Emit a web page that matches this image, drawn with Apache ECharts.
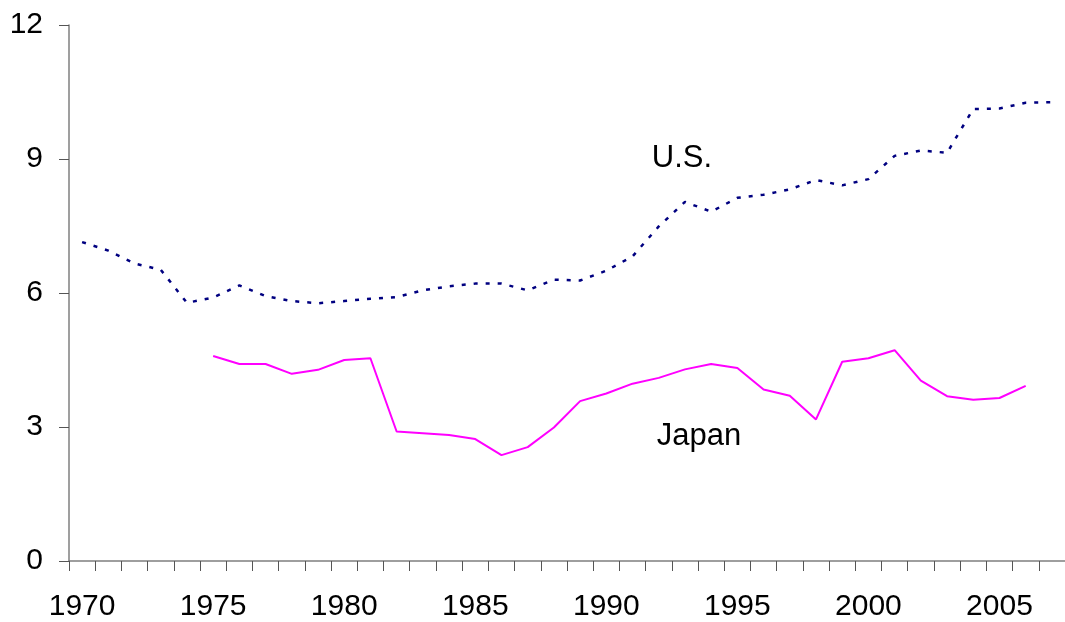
<!DOCTYPE html>
<html lang="en">
<head>
  <meta charset="UTF-8">
  <script src="https://cdn.jsdelivr.net/npm/echarts/dist/echarts.min.js"></script>
  <style>
    html, body { margin: 0; padding: 0; background: #fff; }
    #chart { width: 1065px; height: 622px; }
  </style>
</head>
<body>
  <div id="chart"></div>
  <script>
    const years = [];
    for (let y = 1970; y <= 2007; y++) years.push(String(y));

    const usValues = [
      7.14, 6.95, 6.66, 6.52, 5.78, 5.90, 6.17, 5.93, 5.82, 5.77,
      5.82, 5.87, 5.91, 6.06, 6.15, 6.21, 6.21, 6.06, 6.30, 6.28,
      6.50, 6.82, 7.49, 8.04, 7.82, 8.13, 8.20, 8.32, 8.53, 8.41,
      8.55, 9.07, 9.19, 9.14, 10.12, 10.13, 10.26, 10.27
    ];
    const japanValues = [
      null, null, null, null, null, 4.59, 4.41, 4.41, 4.19, 4.28,
      4.50, 4.54, 2.90, 2.86, 2.82, 2.73, 2.37, 2.55, 2.99, 3.58,
      3.75, 3.97, 4.10, 4.29, 4.41, 4.32, 3.84, 3.70, 3.17, 4.46,
      4.54, 4.72, 4.04, 3.69, 3.61, 3.65, 3.92, null
    ];
    const yTicks = { min: 0, max: 12, step: 3 };

    const font = '"Liberation Sans", Arial, sans-serif';
    const chart = echarts.init(document.getElementById('chart'));

    chart.setOption({
      animation: false,
      backgroundColor: '#fff',
      grid: { left: 69, top: 25, bottom: 60, width: 998, containLabel: false },
      xAxis: {
        type: 'category',
        data: years,
        boundaryGap: true,
        axisLine: { lineStyle: { color: '#7f7f7f', width: 1.5 } },
        axisTick: { show: true, interval: 0, length: 10, lineStyle: { color: '#555' } },
        axisLabel: {
          interval: (i) => i % 5 === 0,
          fontFamily: font, fontSize: 30, color: '#000', margin: 31
        },
        splitLine: { show: false }
      },
      yAxis: {
        type: 'value',
        min: yTicks.min, max: yTicks.max, interval: yTicks.step,
        axisLine: { show: true, lineStyle: { color: '#7f7f7f', width: 1.5 } },
        axisTick: { show: true, length: 10, lineStyle: { color: '#555' } },
        axisLabel: { fontFamily: font, fontSize: 30, color: '#000', margin: 26 },
        splitLine: { show: false }
      },
      series: [
        {
          name: 'U.S.',
          type: 'line',
          data: usValues,
          symbol: 'none',
          lineStyle: { color: '#000080', width: 2.5, type: [4, 8] }
        },
        {
          name: 'Japan',
          type: 'line',
          data: japanValues,
          symbol: 'none',
          connectNulls: false,
          lineStyle: { color: '#ff00ff', width: 2 }
        }
      ],
      graphic: [
        { type: 'text', x: 682, y: 158, style: { text: 'U.S.', font: '31px ' + font, fill: '#000', align: 'center', verticalAlign: 'middle' } },
        { type: 'text', x: 699, y: 436, style: { text: 'Japan', font: '31px ' + font, fill: '#000', align: 'center', verticalAlign: 'middle' } }
      ]
    });
  </script>
</body>
</html>
